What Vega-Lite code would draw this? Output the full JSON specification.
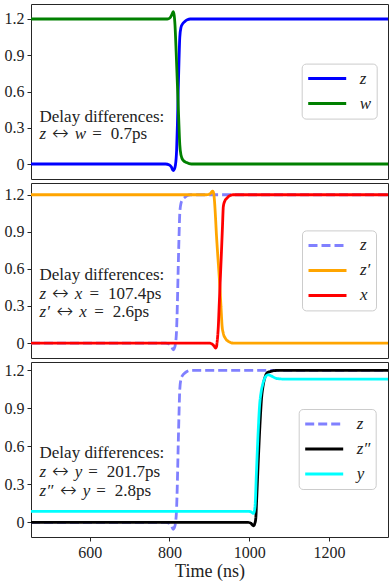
{
  "$schema": "https://vega.github.io/schema/vega-lite/v6.json",
  "padding": {"left": 3, "top": 3, "right": 3, "bottom": 0},
  "background": "white",
  "datasets": {
    "curves": [
      {"s":"z","t":453,"v":0},{"s":"z","t":790,"v":0},{"s":"z","t":800,"v":-0.008},{"s":"z","t":805,"v":-0.025},{"s":"z","t":809.5,"v":-0.055},{"s":"z","t":812,"v":-0.045},{"s":"z","t":815,"v":-0.01},{"s":"z","t":818,"v":0.11},{"s":"z","t":820,"v":0.32},{"s":"z","t":822,"v":0.6},{"s":"z","t":824,"v":0.85},{"s":"z","t":826,"v":1.05},{"s":"z","t":829,"v":1.13},{"s":"z","t":833,"v":1.16},{"s":"z","t":839,"v":1.18},{"s":"z","t":845,"v":1.193},{"s":"z","t":852,"v":1.2},{"s":"z","t":1348,"v":1.2},
      {"s":"w","t":453,"v":1.2},{"s":"w","t":795,"v":1.2},{"s":"w","t":801,"v":1.208},{"s":"w","t":806,"v":1.235},{"s":"w","t":809.5,"v":1.26},{"s":"w","t":812,"v":1.23},{"s":"w","t":814,"v":1.15},{"s":"w","t":817,"v":0.92},{"s":"w","t":820,"v":0.66},{"s":"w","t":823,"v":0.4},{"s":"w","t":826,"v":0.16},{"s":"w","t":829,"v":0.075},{"s":"w","t":834,"v":0.032},{"s":"w","t":843,"v":0.012},{"s":"w","t":855,"v":0},{"s":"w","t":1348,"v":0},
      {"s":"z′","t":453,"v":1.2},{"s":"z′","t":893,"v":1.2},{"s":"z′","t":900,"v":1.205},{"s":"z′","t":904,"v":1.215},{"s":"z′","t":908.3,"v":1.23},{"s":"z′","t":911,"v":1.21},{"s":"z′","t":913,"v":1.15},{"s":"z′","t":915,"v":1.05},{"s":"z′","t":918,"v":0.87},{"s":"z′","t":921,"v":0.72},{"s":"z′","t":924,"v":0.58},{"s":"z′","t":927,"v":0.43},{"s":"z′","t":930,"v":0.25},{"s":"z′","t":932,"v":0.14},{"s":"z′","t":935,"v":0.08},{"s":"z′","t":940,"v":0.04},{"s":"z′","t":948,"v":0.013},{"s":"z′","t":960,"v":0},{"s":"z′","t":1348,"v":0},
      {"s":"x","t":453,"v":0},{"s":"x","t":898,"v":0},{"s":"x","t":906,"v":-0.006},{"s":"x","t":911,"v":-0.02},{"s":"x","t":916,"v":-0.04},{"s":"x","t":918,"v":-0.03},{"s":"x","t":920,"v":0.02},{"s":"x","t":922.6,"v":0.134},{"s":"x","t":925,"v":0.32},{"s":"x","t":928,"v":0.55},{"s":"x","t":931,"v":0.78},{"s":"x","t":933,"v":0.94},{"s":"x","t":935.2,"v":1.105},{"s":"x","t":939,"v":1.15},{"s":"x","t":943.6,"v":1.17},{"s":"x","t":950,"v":1.19},{"s":"x","t":960,"v":1.2},{"s":"x","t":1348,"v":1.2},
      {"s":"z″","t":453,"v":0},{"s":"z″","t":995,"v":0},{"s":"z″","t":1003,"v":-0.005},{"s":"z″","t":1008,"v":-0.02},{"s":"z″","t":1011,"v":-0.027},{"s":"z″","t":1014,"v":-0.01},{"s":"z″","t":1016.5,"v":0.03},{"s":"z″","t":1019,"v":0.2},{"s":"z″","t":1023,"v":0.5},{"s":"z″","t":1027,"v":0.77},{"s":"z″","t":1031,"v":0.98},{"s":"z″","t":1035,"v":1.08},{"s":"z″","t":1040,"v":1.15},{"s":"z″","t":1045,"v":1.18},{"s":"z″","t":1052,"v":1.19},{"s":"z″","t":1061,"v":1.197},{"s":"z″","t":1075,"v":1.2},{"s":"z″","t":1348,"v":1.2},
      {"s":"y","t":453,"v":0.087},{"s":"y","t":995,"v":0.087},{"s":"y","t":1003,"v":0.085},{"s":"y","t":1008,"v":0.075},{"s":"y","t":1011,"v":0.07},{"s":"y","t":1013,"v":0.09},{"s":"y","t":1015,"v":0.14},{"s":"y","t":1018,"v":0.38},{"s":"y","t":1022,"v":0.68},{"s":"y","t":1026,"v":0.92},{"s":"y","t":1030,"v":1.03},{"s":"y","t":1034,"v":1.09},{"s":"y","t":1038,"v":1.13},{"s":"y","t":1042,"v":1.155},{"s":"y","t":1048,"v":1.165},{"s":"y","t":1056,"v":1.155},{"s":"y","t":1065,"v":1.14},{"s":"y","t":1080,"v":1.132},{"s":"y","t":1100,"v":1.13},{"s":"y","t":1348,"v":1.13}
    ],
    "notes": [
      {"p":1,"k":"roman","t":474.4,"v":0.351,"label":"Delay differences:"},
      {"p":1,"k":"ital","t":474.4,"v":0.206,"label":"z"},
      {"p":1,"k":"arrow","t":505.8,"v":0.206,"label":"↔"},
      {"p":1,"k":"ital","t":562.4,"v":0.206,"label":"w"},
      {"p":1,"k":"roman","t":606.5,"v":0.206,"label":"="},
      {"p":1,"k":"roman","t":653.0,"v":0.206,"label":"0.7ps"},
      {"p":2,"k":"roman","t":474.4,"v":0.512,"label":"Delay differences:"},
      {"p":2,"k":"ital","t":474.4,"v":0.358,"label":"z"},
      {"p":2,"k":"arrow","t":505.8,"v":0.358,"label":"↔"},
      {"p":2,"k":"ital","t":562.4,"v":0.358,"label":"x"},
      {"p":2,"k":"roman","t":599.9,"v":0.358,"label":"="},
      {"p":2,"k":"roman","t":646.2,"v":0.358,"label":"107.4ps"},
      {"p":2,"k":"ital","t":474.4,"v":0.207,"label":"z′"},
      {"p":2,"k":"arrow","t":517.2,"v":0.207,"label":"↔"},
      {"p":2,"k":"ital","t":573.8,"v":0.207,"label":"x"},
      {"p":2,"k":"roman","t":611.5,"v":0.207,"label":"="},
      {"p":2,"k":"roman","t":658.0,"v":0.207,"label":"2.6ps"},
      {"p":3,"k":"roman","t":474.4,"v":0.507,"label":"Delay differences:"},
      {"p":3,"k":"ital","t":474.4,"v":0.358,"label":"z"},
      {"p":3,"k":"arrow","t":505.8,"v":0.358,"label":"↔"},
      {"p":3,"k":"ital","t":562.4,"v":0.358,"label":"y"},
      {"p":3,"k":"roman","t":596.4,"v":0.358,"label":"="},
      {"p":3,"k":"roman","t":642.9,"v":0.358,"label":"201.7ps"},
      {"p":3,"k":"ital","t":474.4,"v":0.21,"label":"z″"},
      {"p":3,"k":"arrow","t":526.0,"v":0.21,"label":"↔"},
      {"p":3,"k":"ital","t":582.6,"v":0.21,"label":"y"},
      {"p":3,"k":"roman","t":616.5,"v":0.21,"label":"="},
      {"p":3,"k":"roman","t":663.1,"v":0.21,"label":"2.8ps"}
    ]
  },
  "spacing": 2,
  "resolve": {
    "scale": {"color": "independent", "strokeDash": "independent", "y": "independent", "x": "independent"},
    "legend": {"color": "independent", "strokeDash": "independent"}
  },
  "vconcat": [
    {
      "width": 357, "height": 175,
      "encoding": {
        "x": {"field": "t", "type": "quantitative", "scale": {"domain": [453, 1348], "nice": false, "zero": false}, "axis": null},
        "y": {"field": "v", "type": "quantitative", "scale": {"domain": [-0.124, 1.324], "nice": false, "zero": false},
              "axis": {"values": [0, 0.3, 0.6, 0.9, 1.2], "format": "~g", "title": null}}
      },
      "layer": [
        {
          "data": {"name": "curves"},
          "encoding": {
            "color": {"field": "s", "type": "nominal",
              "scale": {"domain": ["z", "w"], "range": ["#0000ff", "#008000"]},
              "legend": {"orient": "none", "legendX": 270.7, "legendY": 59.6, "title": null}}
          },
          "layer": [
            {"transform": [{"filter": "datum.s === 'z'"}], "mark": {"type": "line", "strokeWidth": 2.8, "interpolate": "monotone"}},
            {"transform": [{"filter": "datum.s === 'w'"}], "mark": {"type": "line", "strokeWidth": 2.8, "interpolate": "monotone"}}
          ]
        },
        {
          "data": {"name": "notes"},
          "transform": [{"filter": "datum.p === 1"}],
          "layer": [
            {"transform": [{"filter": "datum.k === 'roman'"}], "mark": {"type": "text", "align": "left", "baseline": "alphabetic", "font": "Liberation Serif", "fontSize": 17, "color": "#222"}, "encoding": {"text": {"field": "label"}}},
            {"transform": [{"filter": "datum.k === 'ital'"}], "mark": {"type": "text", "align": "left", "baseline": "alphabetic", "font": "Liberation Serif", "fontStyle": "italic", "fontSize": 17, "color": "#222"}, "encoding": {"text": {"field": "label"}}},
            {"transform": [{"filter": "datum.k === 'arrow'"}], "mark": {"type": "text", "align": "left", "baseline": "alphabetic", "font": "DejaVu Sans", "fontWeight": 200, "fontSize": 20, "dy": 1, "color": "#222"}, "encoding": {"text": {"field": "label"}}}
          ]
        }
      ]
    },
    {
      "width": 357, "height": 175,
      "encoding": {
        "x": {"field": "t", "type": "quantitative", "scale": {"domain": [453, 1348], "nice": false, "zero": false}, "axis": null},
        "y": {"field": "v", "type": "quantitative", "scale": {"domain": [-0.121, 1.295], "nice": false, "zero": false},
              "axis": {"values": [0, 0.3, 0.6, 0.9, 1.2], "format": "~g", "title": null}}
      },
      "layer": [
        {
          "data": {"name": "curves"},
          "encoding": {
            "color": {"field": "s", "type": "nominal",
              "scale": {"domain": ["z", "z′", "x"], "range": ["#8080ff", "#ffa500", "#ff0000"]},
              "legend": {"orient": "none", "legendX": 271, "legendY": 47.4, "title": null}},
            "strokeDash": {"field": "s", "type": "nominal",
              "scale": {"domain": ["z", "z′", "x"], "range": [[9, 4], [1, 0], [1, 0]]},
              "legend": {"orient": "none", "legendX": 271, "legendY": 47.4, "title": null}}
          },
          "layer": [
            {"transform": [{"filter": "datum.s === 'z'"}], "mark": {"type": "line", "strokeWidth": 2.8, "interpolate": "monotone"}},
            {"transform": [{"filter": "datum.s === 'z′'"}], "mark": {"type": "line", "strokeWidth": 2.8, "interpolate": "monotone"}},
            {"transform": [{"filter": "datum.s === 'x'"}], "mark": {"type": "line", "strokeWidth": 2.8, "interpolate": "monotone"}}
          ]
        },
        {
          "data": {"name": "notes"},
          "transform": [{"filter": "datum.p === 2"}],
          "layer": [
            {"transform": [{"filter": "datum.k === 'roman'"}], "mark": {"type": "text", "align": "left", "baseline": "alphabetic", "font": "Liberation Serif", "fontSize": 17, "color": "#222"}, "encoding": {"text": {"field": "label"}}},
            {"transform": [{"filter": "datum.k === 'ital'"}], "mark": {"type": "text", "align": "left", "baseline": "alphabetic", "font": "Liberation Serif", "fontStyle": "italic", "fontSize": 17, "color": "#222"}, "encoding": {"text": {"field": "label"}}},
            {"transform": [{"filter": "datum.k === 'arrow'"}], "mark": {"type": "text", "align": "left", "baseline": "alphabetic", "font": "DejaVu Sans", "fontWeight": 200, "fontSize": 20, "dy": 1, "color": "#222"}, "encoding": {"text": {"field": "label"}}}
          ]
        }
      ]
    },
    {
      "width": 357, "height": 175,
      "encoding": {
        "x": {"field": "t", "type": "quantitative", "scale": {"domain": [453, 1348], "nice": false, "zero": false},
              "axis": {"values": [600, 800, 1000, 1200], "format": "d", "title": "Time (ns)"}},
        "y": {"field": "v", "type": "quantitative", "scale": {"domain": [-0.116, 1.266], "nice": false, "zero": false},
              "axis": {"values": [0, 0.3, 0.6, 0.9, 1.2], "format": "~g", "title": null}}
      },
      "layer": [
        {
          "data": {"name": "curves"},
          "encoding": {
            "color": {"field": "s", "type": "nominal",
              "scale": {"domain": ["z", "z″", "y"], "range": ["#8080ff", "#000000", "#00ffff"]},
              "legend": {"orient": "none", "legendX": 267.7, "legendY": 47, "title": null}},
            "strokeDash": {"field": "s", "type": "nominal",
              "scale": {"domain": ["z", "z″", "y"], "range": [[9, 4], [1, 0], [1, 0]]},
              "legend": {"orient": "none", "legendX": 267.7, "legendY": 47, "title": null}}
          },
          "layer": [
            {"transform": [{"filter": "datum.s === 'z'"}], "mark": {"type": "line", "strokeWidth": 2.8, "interpolate": "monotone"}},
            {"transform": [{"filter": "datum.s === 'z″'"}], "mark": {"type": "line", "strokeWidth": 2.8, "interpolate": "monotone"}},
            {"transform": [{"filter": "datum.s === 'y'"}], "mark": {"type": "line", "strokeWidth": 2.8, "interpolate": "monotone"}}
          ]
        },
        {
          "data": {"name": "notes"},
          "transform": [{"filter": "datum.p === 3"}],
          "layer": [
            {"transform": [{"filter": "datum.k === 'roman'"}], "mark": {"type": "text", "align": "left", "baseline": "alphabetic", "font": "Liberation Serif", "fontSize": 17, "color": "#222"}, "encoding": {"text": {"field": "label"}}},
            {"transform": [{"filter": "datum.k === 'ital'"}], "mark": {"type": "text", "align": "left", "baseline": "alphabetic", "font": "Liberation Serif", "fontStyle": "italic", "fontSize": 17, "color": "#222"}, "encoding": {"text": {"field": "label"}}},
            {"transform": [{"filter": "datum.k === 'arrow'"}], "mark": {"type": "text", "align": "left", "baseline": "alphabetic", "font": "DejaVu Sans", "fontWeight": 200, "fontSize": 20, "dy": 1, "color": "#222"}, "encoding": {"text": {"field": "label"}}}
          ]
        }
      ]
    }
  ],
  "config": {
    "view": {"stroke": "#262626", "strokeWidth": 1},
    "axis": {
      "labelFont": "Liberation Serif", "labelFontSize": 16, "labelColor": "#222",
      "tickColor": "#262626", "tickSize": 4, "labelPadding": 3,
      "grid": false, "domain": false,
      "titleFont": "Liberation Serif", "titleFontSize": 18, "titleFontWeight": "normal", "titleColor": "#222", "titlePadding": 2
    },
    "legend": {
      "symbolType": "stroke", "symbolSize": 1444, "symbolStrokeWidth": 3, "clipHeight": 20, "rowPadding": 5,
      "padding": 5, "labelOffset": 12, "labelFont": "Liberation Serif", "labelFontSize": 17, "labelFontStyle": "italic",
      "labelColor": "#222", "strokeColor": "#cccccc", "fillColor": "rgba(255,255,255,0.8)", "cornerRadius": 4
    }
  }
}
